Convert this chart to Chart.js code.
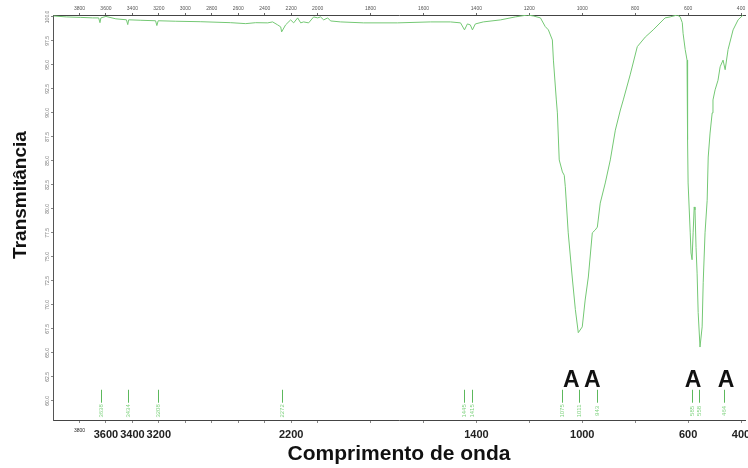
<!DOCTYPE html>
<html><head><meta charset="utf-8">
<script src="https://cdn.jsdelivr.net/npm/chart.js@4"></script>
<style>html,body{margin:0;padding:0;background:#fff}#wrap{width:748px;height:468px}</style>
</head><body><div id="wrap"><canvas id="c" width="748" height="468"></canvas></div>
<script>
const wavenumbers = [3995,3900,3790,3700,3655,3645,3638,3600,3525,3445,3435,3428,3336,3225,3215,3205,3072,2883,2657,2543,2468,2377,2340,2302,2279,2272,2242,2204,2181,2151,2128,2106,2068,2030,2000,1989,1977,1962,1951,1913,1826,1698,1574,1498,1460,1445,1434,1423,1415,1404,1374,1309,1253,1207,1185,1158,1140,1128,1113,1109,1098,1094,1087,1075,1068,1064,1053,1038,1026,1015,1000,989,977,962,951,943,932,913,894,875,856,845,819,792,762,732,687,668,641,630,622,619,611,604,602,600,592,589,585,581,577,574,570,566,562,555,547,543,536,528,524,517,509,506,498,487,479,468,460,449,430,411,392];
const transmittance = [100.1,100.0,99.95,99.9,99.9,99.4,99.9,100.05,99.8,99.7,99.2,99.7,99.65,99.6,99.1,99.6,99.55,99.5,99.4,99.3,99.4,99.38,99.48,99.17,98.96,98.44,99.17,99.69,99.38,99.9,99.38,99.48,99.38,100.0,99.9,100.0,99.69,99.9,99.58,99.48,99.38,99.38,99.48,99.48,99.38,98.65,99.27,99.17,98.65,99.27,99.48,99.69,100.0,100.2,100.1,99.9,99.0,98.65,97.6,95.5,91.35,90.0,85.1,83.85,83.5,82.3,77.5,72.9,69.5,67.1,67.7,70.5,72.9,77.5,77.8,78.1,80.6,82.7,85.1,88.2,90.3,91.35,93.96,96.9,97.9,98.65,99.9,100.0,100.2,100.0,99.4,98.3,96.6,95.5,87.2,82.7,77.5,75.4,74.7,77.5,80.2,79.9,76.0,73.3,69.2,65.6,67.7,72.3,77.5,80.9,85.4,87.9,90.0,91.35,92.4,93.4,94.8,95.5,94.5,96.6,98.65,99.7,100.2];
const xTickValues = [3800,3600,3400,3200,3000,2800,2600,2400,2200,2000,1800,1600,1400,1200,1000,800,600,400];
const bottomBoldLabels = [3600,3400,3200,2200,1400,1000,600,400];
const bottomSmallLabels = [3800];
const yTickValues = [60,62.5,65,67.5,70,72.5,75,77.5,80,82.5,85,87.5,90,92.5,95,97.5,100];
const peakWavenumbers = [3638,3434,3208,2272,1445,1415,1075,1011,943,585,558,464];
const peakLabels = ['3638','3434','3208','2272','1445','1415','1075','1011','943','585','558','464'];
const bandWavenumbers = [1041,962,581,457];
const bandLabels = ['A','A','A','A'];
const xTitle = 'Comprimento de onda';
const yTitle = 'Transmitância';

const FAM = '"Liberation Sans", Arial, sans-serif';
function toAxis(w){ return w <= 2000 ? w : 2000 + (w - 2000) / 2; }

const overlay = {
  id: 'overlay',
  afterDraw(chart){
    const ctx = chart.ctx, xs = chart.scales.x, ys = chart.scales.y;
    ctx.save();
    ctx.fillStyle = '#777';
    ctx.font = '5px ' + FAM;
    ctx.textAlign = 'center'; ctx.textBaseline = 'middle';
    yTickValues.forEach(v => {
      const py = ys.getPixelForValue(v);
      ctx.save(); ctx.translate(48, py); ctx.rotate(-Math.PI/2);
      ctx.fillText(v.toFixed(1), 0, 0); ctx.restore();
    });
    ctx.save(); ctx.translate(21, 195); ctx.rotate(-Math.PI/2);
    ctx.fillStyle = '#111'; ctx.font = 'bold 19px ' + FAM;
    ctx.fillText(yTitle, 0, 0); ctx.restore();
    peakWavenumbers.forEach((w, i) => {
      const px = Math.round(xs.getPixelForValue(toAxis(w))) + 0.5;
      ctx.strokeStyle = '#5cb85c'; ctx.lineWidth = 1;
      ctx.beginPath();
      ctx.moveTo(px, ys.getPixelForValue(61.15));
      ctx.lineTo(px, ys.getPixelForValue(59.8));
      ctx.stroke();
      ctx.save(); ctx.translate(px, ys.getPixelForValue(58.95)); ctx.rotate(-Math.PI/2);
      ctx.fillStyle = '#7fd27f'; ctx.font = '6px ' + FAM;
      ctx.fillText(peakLabels[i], 0, 0); ctx.restore();
    });
    ctx.fillStyle = '#111'; ctx.font = 'bold 23px ' + FAM;
    bandWavenumbers.forEach((w, i) => {
      ctx.fillText(bandLabels[i], xs.getPixelForValue(toAxis(w)), ys.getPixelForValue(62.1));
    });
    ctx.restore();
  }
};

const setXTicks = s => { s.ticks = xTickValues.map(w => ({ value: toAxis(w) })); };
const fixX = h => s => { s.height = h; s.paddingLeft = 0; s.paddingRight = 0; };

new Chart(document.getElementById('c'), {
  type: 'line',
  data: {
    datasets: [{
      data: wavenumbers.map((w, i) => ({ x: toAxis(w), y: transmittance[i] })),
      borderColor: '#74c874', borderWidth: 1, pointRadius: 0, tension: 0, fill: false,
      xAxisID: 'x', yAxisID: 'y'
    }]
  },
  options: {
    responsive: false, animation: false, devicePixelRatio: 1,
    layout: { padding: { left: 0, right: 3, top: 0, bottom: 0 } },
    plugins: { legend: { display: false }, tooltip: { enabled: false } },
    scales: {
      x: {
        type: 'linear', position: 'bottom', reverse: true, min: 385, max: 3000,
        afterBuildTicks: setXTicks,
        afterFit: fixX(48),
        ticks: {
          autoSkip: false, maxRotation: 0, minRotation: 0, padding: 5, color: '#222',
          font: c => bottomSmallLabels.includes(xTickValues[c.index]) ? { family: FAM, size: 5 } : { family: FAM, size: 11, weight: 'bold' },
          callback: (v, i) => {
            const w = xTickValues[i];
            return (bottomBoldLabels.includes(w) || bottomSmallLabels.includes(w)) ? String(w) : '';
          }
        },
        grid: { drawOnChartArea: false, tickLength: 3, color: '#888' },
        border: { color: '#444' },
        title: { display: true, text: xTitle, color: '#111', font: { family: FAM, size: 21, weight: 'bold' }, padding: { top: 0, bottom: 1 } }
      },
      x2: {
        type: 'linear', position: 'top', reverse: true, min: 385, max: 3000,
        afterBuildTicks: setXTicks,
        afterFit: fixX(15),
        ticks: {
          autoSkip: false, maxRotation: 0, minRotation: 0, padding: 1, color: '#555',
          font: { family: FAM, size: 5 },
          callback: (v, i) => String(xTickValues[i])
        },
        grid: { drawOnChartArea: false, tickLength: 2, color: '#666' },
        border: { color: '#444' }
      },
      y: {
        type: 'linear', position: 'left', min: 58, max: 100.2,
        afterBuildTicks: s => { s.ticks = yTickValues.map(v => ({ value: v })); },
        afterFit: s => { s.width = 53; s.paddingTop = 0; s.paddingBottom = 0; },
        ticks: { display: false },
        grid: { drawOnChartArea: false, tickLength: 2, color: '#888' },
        border: { color: '#555' }
      }
    }
  },
  plugins: [overlay]
});
</script>
</body></html>
